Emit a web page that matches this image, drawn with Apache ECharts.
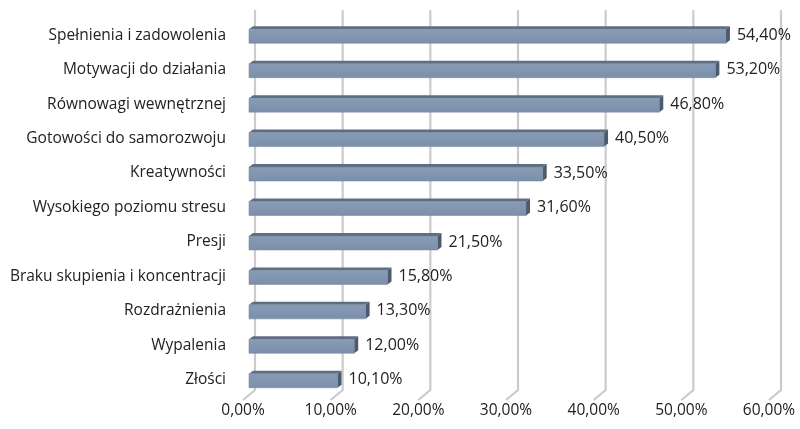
<!DOCTYPE html>
<html>
<head>
<meta charset="utf-8">
<script src="https://cdn.jsdelivr.net/npm/echarts@6/dist/echarts.min.js"></script>
<style>
  html, body { margin: 0; padding: 0; background: #fff; }
  #chart { width: 800px; height: 429px; }
</style>
</head>
<body>
<div id="chart"></div>
<script>
const categories = [
  'Spełnienia i zadowolenia',
  'Motywacji do działania',
  'Równowagi wewnętrznej',
  'Gotowości do samorozwoju',
  'Kreatywności',
  'Wysokiego poziomu stresu',
  'Presji',
  'Braku skupienia i koncentracji',
  'Rozdrażnienia',
  'Wypalenia',
  'Złości'
]
const values = [54.4, 53.2, 46.8, 40.5, 33.5, 31.6, 21.5, 15.8, 13.3, 12.0, 10.1]
const tickValues = [0, 10, 20, 30, 40, 50, 60]

const fmt = v => v.toFixed(2).replace('.', ',') + '%'
const font = '"Open Sans", "Noto Sans", sans-serif'

let myChart = echarts.init(document.getElementById('chart'))

myChart.setOption({
  animation: false,
  grid: {
    top: 18,
    left: 249,
    right: 25,
    bottom: 32
  },
  xAxis: {
    type: 'value',
    min: 0,
    max: 60,
    interval: 10,
    axisLine: { show: false },
    axisTick: { show: false },
    splitLine: { show: false },
    axisLabel: {
      color: '#222',
      fontSize: 15.5,
      fontFamily: font,
      margin: 6,
      padding: [0, 12, 0, 0],
      formatter: fmt
    }
  },
  yAxis: {
    type: 'category',
    inverse: true,
    data: categories,
    axisLine: { show: false },
    axisTick: { show: false },
    axisLabel: {
      color: '#222',
      fontSize: 15.5,
      fontFamily: font,
      margin: 23
    }
  },
  series: [
    {
      // pionowe linie siatki 3D
      type: 'custom',
      z: 1,
      data: tickValues.map(v => [v]),
      encode: { x: 0 },
      renderItem: (params, api) => {
        const x = api.coord([api.value(0), 0])[0]
        const cs = params.coordSys
        const bottom = cs.y + cs.height
        return {
          type: 'polyline',
          shape: {
            points: [
              [x - 6, bottom + 3],
              [x + 6, bottom - 7],
              [x + 6, cs.y - 8]
            ]
          },
          style: { stroke: '#cbcbcb', lineWidth: 2.2, fill: null }
        }
      }
    },
    {
      type: 'custom',
      z: 2,
      data: values.map((v, i) => [v, i]),
      encode: { x: 0, y: 1 },
      renderItem: (params, api) => {
        const v = api.value(0)
        const end = api.coord([v, api.value(1)])
        const start = api.coord([0, api.value(1)])
        const x0 = start[0]
        const xe = end[0]
        const yc = end[1]
        const d = 4
        const top = yc - 6
        const bot = yc + 8
        return {
          type: 'group',
          children: [
            {
              type: 'polygon',
              shape: { points: [[x0, top], [x0 + d, top - 3], [xe + d, top - 3], [xe, top]] },
              style: { fill: '#5f6d82' }
            },
            {
              type: 'polygon',
              shape: { points: [[xe, top], [xe + d, top - 3], [xe + d, bot - 3], [xe, bot]] },
              style: { fill: '#4d5a6d' }
            },
            {
              type: 'rect',
              shape: { x: x0, y: top, width: xe - x0, height: bot - top },
              style: {
                fill: new echarts.graphic.LinearGradient(0, 0, 0, 1, [
                  { offset: 0, color: '#889cb6' },
                  { offset: 1, color: '#7b8faa' }
                ]),
                stroke: '#6f8098',
                lineWidth: 0.5
              }
            },
            {
              type: 'text',
              x: xe + 11,
              y: yc,
              style: {
                text: fmt(v),
                fill: '#222',
                font: '16px ' + font,
                verticalAlign: 'middle',
                align: 'left'
              }
            }
          ]
        }
      }
    }
  ]
})
</script>
</body>
</html>
